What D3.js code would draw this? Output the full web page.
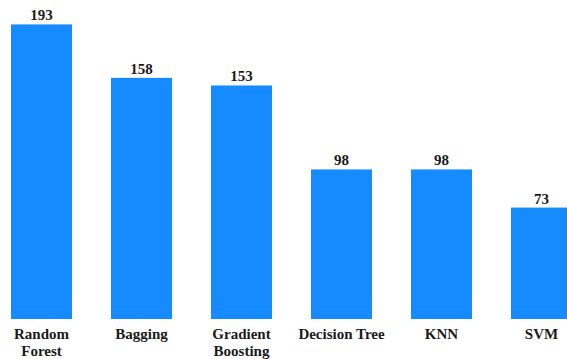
<!DOCTYPE html>
<html>
<head>
<meta charset="utf-8">
<script src="https://cdn.jsdelivr.net/npm/d3@7"></script>
<style>
  html, body { margin: 0; padding: 0; background: #ffffff; overflow: hidden; }
  svg { display: block; }
  text { font-family: "Liberation Serif", "Times New Roman", serif; font-weight: bold; fill: #1a1a1a; }
</style>
</head>
<body>
<svg id="chart" width="567" height="359"></svg>
<script>
// Model names and their scores
const categories = ["Random Forest", "Bagging", "Gradient Boosting", "Decision Tree", "KNN", "SVM"];
const values = [193, 158, 153, 98, 98, 73];

const W = 567, H = 359;
const baseline = 319;
const barColor = "#168aff";

const svg = d3.select("#chart");

const x = d3.scaleBand()
  .domain(categories)
  .range([-8.5, 591.5])
  .paddingInner(0.39)
  .paddingOuter(0.195);

const y = d3.scaleLinear()
  .domain([0, 209])
  .range([baseline, 0]);

// Bars
svg.append("g")
  .selectAll("rect")
  .data(categories)
  .join("rect")
  .attr("x", d => x(d))
  .attr("y", (d, i) => y(values[i]))
  .attr("width", x.bandwidth())
  .attr("height", (d, i) => y(0) - y(values[i]))
  .attr("fill", barColor);

// Value labels above bars
svg.append("g")
  .selectAll("text")
  .data(categories)
  .join("text")
  .attr("x", d => x(d) + x.bandwidth() / 2)
  .attr("y", (d, i) => y(values[i]) - 4)
  .attr("text-anchor", "middle")
  .attr("font-size", 15)
  .text((d, i) => values[i]);

// Category axis without line or ticks, labels wrapped to fit
const xAxis = d3.axisBottom(x).tickSize(0).tickPadding(0);
const gx = svg.append("g")
  .attr("transform", `translate(0,${baseline})`)
  .call(xAxis);
gx.select(".domain").remove();

const maxLabelWidth = 90;
gx.selectAll(".tick text")
  .attr("font-size", 15)
  .attr("font-family", null)
  .attr("fill", null)
  .attr("dy", null)
  .attr("y", null)
  .each(function (d) {
    const t = d3.select(this);
    const words = d.split(" ");
    t.text(null);
    let line = [];
    const lines = [];
    const probe = t.append("tspan");
    words.forEach(w => {
      const trial = line.concat(w).join(" ");
      probe.text(trial);
      if (probe.node().getComputedTextLength() > maxLabelWidth && line.length) {
        lines.push(line.join(" "));
        line = [w];
      } else {
        line.push(w);
      }
    });
    lines.push(line.join(" "));
    probe.remove();
    lines.forEach((l, i) => {
      t.append("tspan")
        .attr("x", 0)
        .attr("y", 20 + i * 17)
        .text(l);
    });
  });
</script>
</body>
</html>
